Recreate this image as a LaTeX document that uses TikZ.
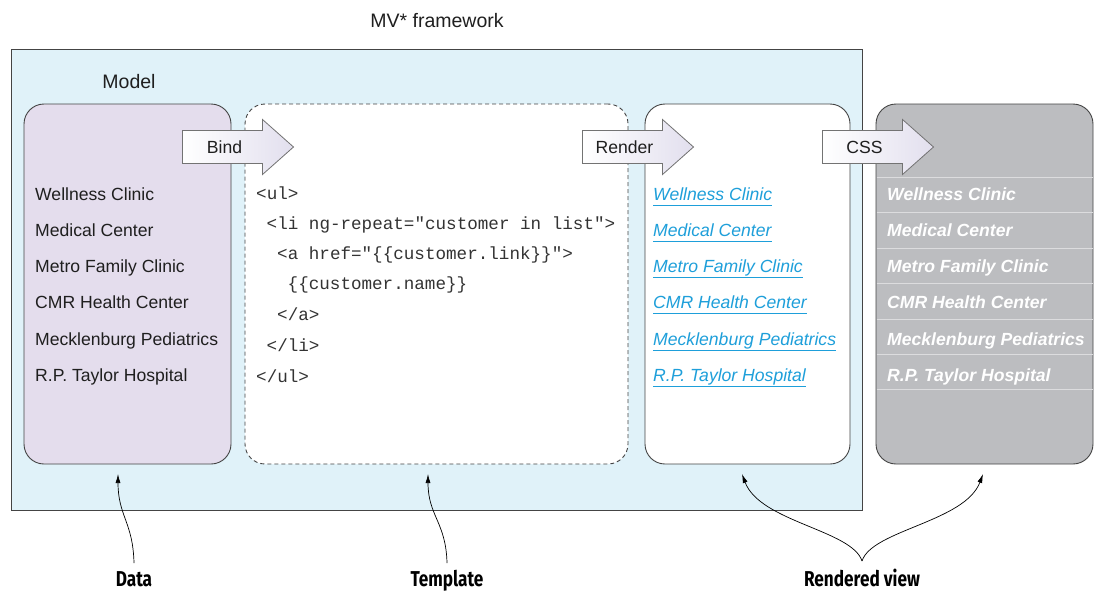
\documentclass[tikz,border=0pt]{standalone}
\usepackage{fontspec}
\setmainfont{Liberation Sans}
\setmonofont{Liberation Mono}
\newfontfamily\labelfont[FakeStretch=0.8]{Fira Sans}
\usetikzlibrary{arrows.meta}
\definecolor{bgblue}{HTML}{E0F2F9}
\definecolor{modelfill}{HTML}{E4DDED}
\definecolor{cssfill}{HTML}{BCBDC0}
\definecolor{linkblue}{HTML}{1E9FDA}
\definecolor{sepgray}{HTML}{DCDCDE}
\definecolor{arrowend}{HTML}{E2DFEE}
\definecolor{edgegray}{HTML}{444444}
\newcommand\blockarrow[4]{%
  \draw[blockarrowstyle] (#2,{#3-16.5}) -- ({#2+80},{#3-16.5}) -- ({#2+80},{#3-27.5})
    -- ({#2+111},#3) -- ({#2+80},{#3+27.5}) -- ({#2+80},{#3+16.5}) -- (#2,{#3+16.5}) -- cycle;
  \node[arrowtxt] (#1) at ({#2+42},#3) {#4};}
\begin{document}
\begin{tikzpicture}[x=1pt,y=-1pt,
  panel/.style={draw=edgegray, line width=0.9pt, rounded corners=20pt, minimum height=360pt, inner sep=0pt},
  listtxt/.style={anchor=base west, inner sep=0pt, font=\fontsize{17.6}{20}\selectfont, text=black!88},
  codetxt/.style={anchor=base west, inner sep=0pt, font=\ttfamily\fontsize{17.6}{20}\selectfont, text=black!80},
  linktxt/.style={anchor=base west, inner sep=0pt, font=\itshape\fontsize{17.6}{20}\selectfont, text=linkblue},
  csstxt/.style={anchor=base west, inner sep=0pt, font=\bfseries\itshape\fontsize{17.6}{20}\selectfont, text=white},
  arrowtxt/.style={inner sep=0pt, font=\fontsize{17.6}{20}\selectfont, text=black!88},
  blockarrowstyle/.style={draw=black!55, line width=0.8pt, left color=white, right color=arrowend},
  bottomlbl/.style={anchor=base, inner sep=0pt, font=\labelfont\bfseries\fontsize{21.5}{24}\selectfont},
  pointer/.style={line width=0.7pt, -{Latex[length=9pt,width=5pt]}},
  sepline/.style={draw=sepgray, line width=1pt}
]
\useasboundingbox (0,0) rectangle (1094,592);
% outer framework
\node[draw=edgegray, line width=0.9pt, fill=bgblue, minimum width=851pt, minimum height=461pt, inner sep=0pt] (frame) at (436.5,279.5) {};
\node[inner sep=0pt, anchor=base, font=\fontsize{19.5}{22}\selectfont, text=black!88] (title) at (437,27) {MV* framework};
\node[inner sep=0pt, anchor=base, font=\fontsize{19.5}{22}\selectfont, text=black!88] (modellbl) at (129,88) {Model};
% panels
\node[panel, fill=modelfill, minimum width=207pt] (model) at (127.5,284) {};
\node[panel, fill=white, dash pattern=on 4pt off 3pt, minimum width=383pt] (template) at (436.5,284) {};
\node[panel, fill=white, minimum width=205pt] (rendered) at (747.5,284) {};
\node[panel, fill=cssfill, minimum width=217pt] (css) at (984.5,284) {};
% css separators
\foreach \yy in {177,212.5,248,283.5,319,354.5,389.5}
  \draw[sepline] (876.5,\yy) -- (1092.5,\yy);
% model list
\node[listtxt] (m1) at (35,200) {Wellness Clinic};
\node[listtxt] (m2) at (35,236) {Medical Center};
\node[listtxt] (m3) at (35,272) {Metro Family Clinic};
\node[listtxt] (m4) at (35,308) {CMR Health Center};
\node[listtxt] (m5) at (35,345) {Mecklenburg Pediatrics};
\node[listtxt] (m6) at (35,381) {R.P. Taylor Hospital};
% template code
\node[codetxt] (c1) at (256,199) {<ul>};
\node[codetxt] (c2) at (266.5,229) {<li ng-repeat="customer in list">};
\node[codetxt] (c3) at (277,259) {<a href="\{\{customer.link\}\}">};
\node[codetxt] (c4) at (287.5,289) {\{\{customer.name\}\}};
\node[codetxt] (c5) at (277,320) {</a>};
\node[codetxt] (c6) at (266.5,351) {</li>};
\node[codetxt] (c7) at (256,382) {</ul>};
% rendered links
\foreach \t/\yy [count=\i] in {Wellness Clinic/200,Medical Center/236,Metro Family Clinic/272,CMR Health Center/308,Mecklenburg Pediatrics/345,R.P. Taylor Hospital/381}{
  \node[linktxt] (r\i) at (653,\yy) {\t};
  \draw[linkblue, line width=0.9pt] ([yshift=-5pt]r\i.base west) -- ([yshift=-5pt]r\i.base east);
}
% css list
\node[csstxt] (s1) at (887,200) {Wellness Clinic};
\node[csstxt] (s2) at (887,236) {Medical Center};
\node[csstxt] (s3) at (887,272) {Metro Family Clinic};
\node[csstxt] (s4) at (887,308) {CMR Health Center};
\node[csstxt] (s5) at (887,345) {Mecklenburg Pediatrics};
\node[csstxt] (s6) at (887,381) {R.P. Taylor Hospital};
% block arrows
\blockarrow{bind}{182.5}{147}{Bind}
\blockarrow{render}{582.5}{147}{Render}
\blockarrow{cssarrow}{822.5}{147}{CSS}
% bottom labels
\node[bottomlbl] (data) at (134,586) {Data};
\node[bottomlbl] (tpl) at (447,586) {Template};
\node[bottomlbl] (rview) at (862,586) {Rendered view};
\coordinate (datatip) at (118,474);
\coordinate (tpltip) at (428,474);
\coordinate (rtipl) at (742,474);
\coordinate (rtipr) at (983,474);
\coordinate (djoin) at (134,563);
\coordinate (tjoin) at (447,563);
\coordinate (rjoin) at (862,561);
\draw[pointer] (djoin) .. controls (133,522) and (118,516) .. (datatip);
\draw[pointer] (tjoin) .. controls (446,522) and (428,516) .. (tpltip);
\draw[pointer] (rjoin) .. controls (852,530) and (760,522) .. (rtipl);
\draw[pointer] (rjoin) .. controls (872,530) and (965,522) .. (rtipr);
\end{tikzpicture}
\end{document}
